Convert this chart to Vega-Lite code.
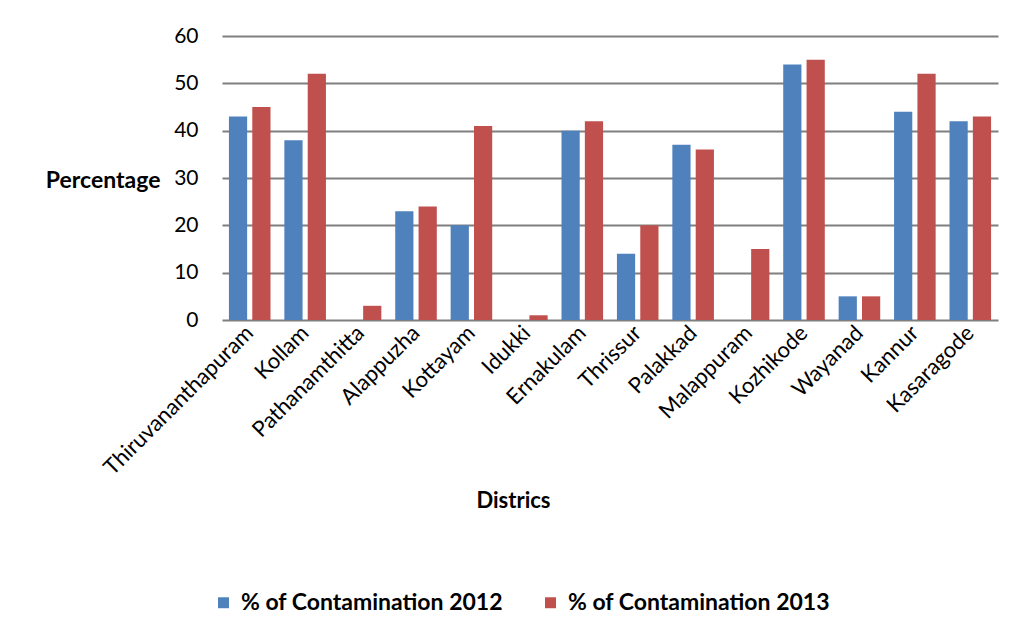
{
  "$schema": "https://vega.github.io/schema/vega-lite/v6.json",
  "autosize": "none",
  "width": 776,
  "height": 284,
  "padding": {"left": 222, "top": 36, "right": 18, "bottom": 317},
  "background": "white",
  "config": {
    "font": "Lato",
    "view": {"stroke": null}
  },
  "data": {
    "values": [
      {"district": "Thiruvananthapuram", "series": "% of Contamination 2012", "pct": 43},
      {"district": "Thiruvananthapuram", "series": "% of Contamination 2013", "pct": 45},
      {"district": "Kollam", "series": "% of Contamination 2012", "pct": 38},
      {"district": "Kollam", "series": "% of Contamination 2013", "pct": 52},
      {"district": "Pathanamthitta", "series": "% of Contamination 2012", "pct": 0},
      {"district": "Pathanamthitta", "series": "% of Contamination 2013", "pct": 3},
      {"district": "Alappuzha", "series": "% of Contamination 2012", "pct": 23},
      {"district": "Alappuzha", "series": "% of Contamination 2013", "pct": 24},
      {"district": "Kottayam", "series": "% of Contamination 2012", "pct": 20},
      {"district": "Kottayam", "series": "% of Contamination 2013", "pct": 41},
      {"district": "Idukki", "series": "% of Contamination 2012", "pct": 0},
      {"district": "Idukki", "series": "% of Contamination 2013", "pct": 1},
      {"district": "Ernakulam", "series": "% of Contamination 2012", "pct": 40},
      {"district": "Ernakulam", "series": "% of Contamination 2013", "pct": 42},
      {"district": "Thrissur", "series": "% of Contamination 2012", "pct": 14},
      {"district": "Thrissur", "series": "% of Contamination 2013", "pct": 20},
      {"district": "Palakkad", "series": "% of Contamination 2012", "pct": 37},
      {"district": "Palakkad", "series": "% of Contamination 2013", "pct": 36},
      {"district": "Malappuram", "series": "% of Contamination 2012", "pct": 0},
      {"district": "Malappuram", "series": "% of Contamination 2013", "pct": 15},
      {"district": "Kozhikode", "series": "% of Contamination 2012", "pct": 54},
      {"district": "Kozhikode", "series": "% of Contamination 2013", "pct": 55},
      {"district": "Wayanad", "series": "% of Contamination 2012", "pct": 5},
      {"district": "Wayanad", "series": "% of Contamination 2013", "pct": 5},
      {"district": "Kannur", "series": "% of Contamination 2012", "pct": 44},
      {"district": "Kannur", "series": "% of Contamination 2013", "pct": 52},
      {"district": "Kasaragode", "series": "% of Contamination 2012", "pct": 42},
      {"district": "Kasaragode", "series": "% of Contamination 2013", "pct": 43}
    ]
  },
  "mark": {"type": "bar"},
  "encoding": {
    "x": {
      "field": "district",
      "type": "nominal",
      "sort": null,
      "scale": {"paddingInner": 0.25, "paddingOuter": 0.125},
      "axis": {
        "title": "Districs",
        "titleFont": "Lato",
        "titleFontSize": 22,
        "titleFontWeight": "bold",
        "titleColor": "black",
        "titleX": 291,
        "titleY": 180,
        "titleBaseline": "middle",
        "labelAngle": -45,
        "labelAlign": "right",
        "labelBaseline": "middle",
        "labelFontSize": 22,
        "labelColor": "black",
        "labelPadding": 9,
        "labelOverlap": false,
        "labelLimit": 0,
        "ticks": false,
        "domain": false,
        "grid": false
      }
    },
    "xOffset": {
      "field": "series",
      "type": "nominal",
      "scale": {"paddingInner": 0.22, "paddingOuter": 0}
    },
    "y": {
      "field": "pct",
      "type": "quantitative",
      "scale": {"domain": [0, 60], "nice": false},
      "axis": {
        "title": "Percentage",
        "titleAngle": 0,
        "titleFontSize": 23,
        "titleFontWeight": "bold",
        "titleColor": "black",
        "titleAlign": "right",
        "titleBaseline": "middle",
        "titleX": -62,
        "titleY": 144,
        "values": [0, 10, 20, 30, 40, 50, 60],
        "labelFontSize": 21,
        "labelColor": "black",
        "labelPadding": 24,
        "ticks": false,
        "domain": false,
        "grid": true,
        "gridColor": "#7f7f7f",
        "gridWidth": 1.8
      }
    },
    "color": {
      "field": "series",
      "type": "nominal",
      "scale": {
        "domain": ["% of Contamination 2012", "% of Contamination 2013"],
        "range": ["#4F81BD", "#C0504D"]
      },
      "legend": {
        "title": null,
        "orient": "none",
        "direction": "horizontal",
        "legendX": -10,
        "legendY": 555,
        "symbolType": "square",
        "symbolSize": 120,
        "symbolStrokeWidth": 0,
        "labelFontSize": 23,
        "labelFontWeight": "bold",
        "labelColor": "black",
        "labelLimit": 0,
        "labelOffset": 6,
        "columnPadding": 36
      }
    }
  }
}
